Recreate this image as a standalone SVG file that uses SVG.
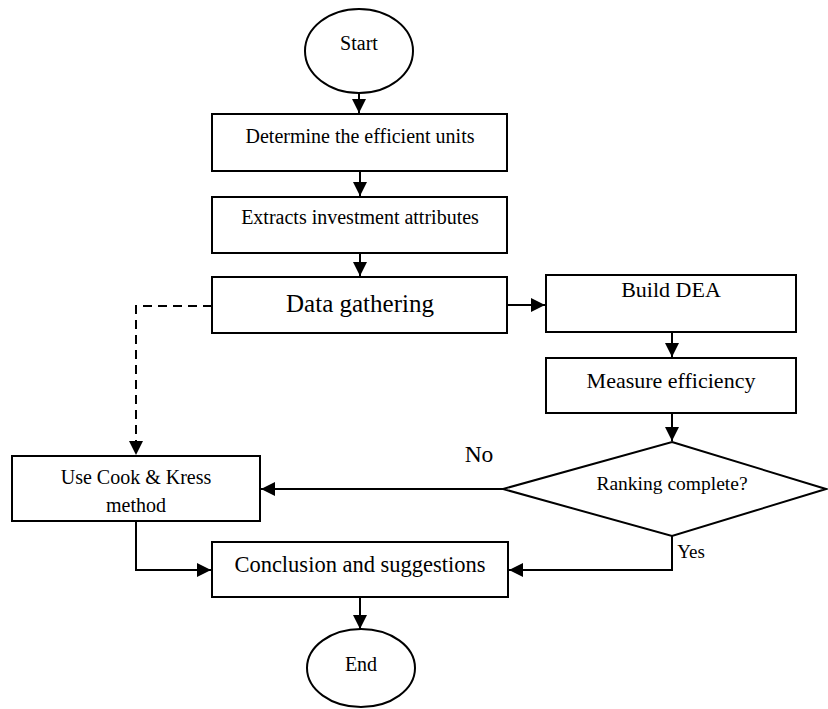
<svg xmlns="http://www.w3.org/2000/svg" width="828" height="709" viewBox="0 0 828 709">
<style>
.s{fill:#fff;stroke:#000;stroke-width:2}
.c{fill:none;stroke:#000;stroke-width:2}
text{fill:#000;text-anchor:middle}
</style>
<defs>
<marker id="a" viewBox="0 0 10 10" refX="10" refY="5" markerWidth="7.5" markerHeight="7" markerUnits="strokeWidth" orient="auto">
<path d="M0,0 L10,5 L0,10 Z" fill="#000"/>
</marker>
</defs>
<rect width="828" height="709" fill="#fff"/>
<g font-family="'Liberation Serif', 'Times New Roman', 'DejaVu Serif', serif">
<g id="connectors">
<path class="c" d="M359,93 V113" marker-end="url(#a)"/>
<path class="c" d="M360,171 V196" marker-end="url(#a)"/>
<path class="c" d="M360,253 V276" marker-end="url(#a)"/>
<path class="c" d="M507,305 H545" marker-end="url(#a)"/>
<path class="c" d="M212,306 H136 V455" stroke-dasharray="9,6" marker-end="url(#a)"/>
<path class="c" d="M672,332 V357" marker-end="url(#a)"/>
<path class="c" d="M672,413 V441" marker-end="url(#a)"/>
<path class="c" d="M503,489 H261" marker-end="url(#a)"/>
<path class="c" d="M136,521 V570 H211" marker-end="url(#a)"/>
<path class="c" d="M672,536 V570 H509" marker-end="url(#a)"/>
<path class="c" d="M360,597 V629" marker-end="url(#a)"/>
<text x="479" y="462" font-size="23.5">No</text>
<text x="691" y="558" font-size="19">Yes</text>
</g>
<g id="start">
<ellipse class="s" cx="359" cy="51" rx="54" ry="42"/>
<text x="359" y="50" font-size="20">Start</text>
</g>
<g id="determine">
<rect class="s" x="212" y="114" width="295" height="57"/>
<text x="360" y="143" font-size="20">Determine the efficient units</text>
</g>
<g id="extracts">
<rect class="s" x="212" y="197" width="295" height="56"/>
<text x="360" y="224" font-size="20">Extracts investment attributes</text>
</g>
<g id="data">
<rect class="s" x="212" y="277" width="295" height="56"/>
<text x="360" y="312" font-size="25">Data gathering</text>
</g>
<g id="build">
<rect class="s" x="546" y="275" width="250" height="57"/>
<text x="671" y="297" font-size="22">Build DEA</text>
</g>
<g id="measure">
<rect class="s" x="546" y="358" width="250" height="55"/>
<text x="671" y="388" font-size="22">Measure efficiency</text>
</g>
<g id="ranking">
<polygon class="s" points="672,442 826,489 672,536 503,489"/>
<text x="672" y="490" font-size="19.5">Ranking complete?</text>
</g>
<g id="cook">
<rect class="s" x="12" y="456" width="248" height="65"/>
<text x="136" y="484" font-size="20">Use Cook &amp; Kress</text>
<text x="136" y="512" font-size="20">method</text>
</g>
<g id="conclusion">
<rect class="s" x="212" y="542" width="296" height="55"/>
<text x="360" y="572" font-size="22.5">Conclusion and suggestions</text>
</g>
<g id="end">
<ellipse class="s" cx="361" cy="668" rx="54" ry="39"/>
<text x="361" y="671" font-size="20">End</text>
</g>
</g>
</svg>
